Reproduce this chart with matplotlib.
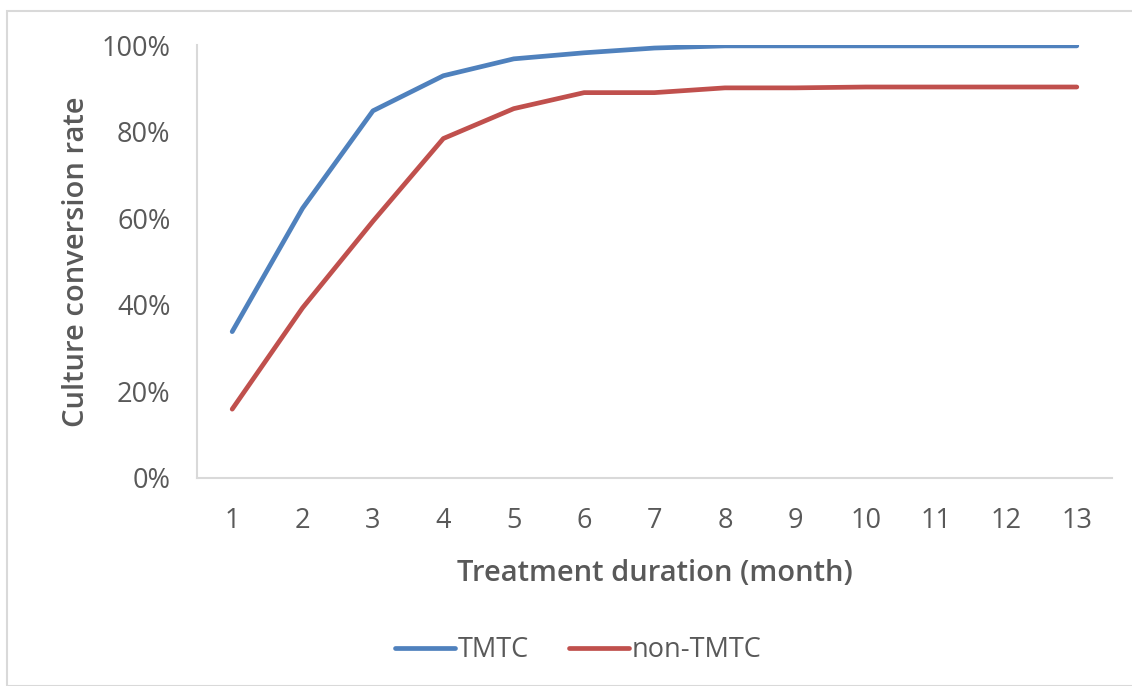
import matplotlib
matplotlib.use("Agg")
import matplotlib.pyplot as plt
from matplotlib.patches import Rectangle
from matplotlib.ticker import PercentFormatter

# Data
months = list(range(1, 14))
tmtc = [0.338, 0.623, 0.848, 0.929, 0.968, 0.982, 0.993, 0.998, 0.998, 0.998, 0.998, 0.998, 0.998]
non_tmtc = [0.159, 0.393, 0.593, 0.784, 0.853, 0.890, 0.890, 0.901, 0.901, 0.903, 0.903, 0.903, 0.903]

SERIES_COLORS = {"TMTC": "#4F81BD", "non-TMTC": "#C0504D"}
TEXT_COLOR = "#595959"
GRID_GREY = "#D9D9D9"

plt.rcParams["font.family"] = ["Open Sans", "DejaVu Sans"]

fig = plt.figure(figsize=(11.32, 6.86), dpi=100)
ax = fig.add_axes([197 / 1132, 1 - 478 / 686, (1112 - 197) / 1132, (478 - 45) / 686])

ax.plot(months, tmtc, color=SERIES_COLORS["TMTC"], lw=3.4, solid_capstyle="round",
        solid_joinstyle="round", label="TMTC")
ax.plot(months, non_tmtc, color=SERIES_COLORS["non-TMTC"], lw=3.4, solid_capstyle="round",
        solid_joinstyle="round", label="non-TMTC")

ax.set_xlim(0.5, 13.5)
ax.set_ylim(0, 1)
ax.set_xticks(months)
ax.set_yticks([0, 0.2, 0.4, 0.6, 0.8, 1.0])
ax.yaxis.set_major_formatter(PercentFormatter(1.0, decimals=0))

for side in ["top", "right"]:
    ax.spines[side].set_visible(False)
for side in ["left", "bottom"]:
    ax.spines[side].set_color(GRID_GREY)
    ax.spines[side].set_linewidth(1.5)

ax.tick_params(length=0, labelsize=19.5, colors=TEXT_COLOR)
ax.tick_params(axis="x", pad=21)
ax.tick_params(axis="y", pad=19)

ax.set_xlabel("Treatment duration (month)", fontsize=21, fontweight="semibold",
              color=TEXT_COLOR, labelpad=17)
ax.set_ylabel("Culture conversion rate", fontsize=21, fontweight="semibold",
              color=TEXT_COLOR)
ax.yaxis.set_label_coords((91 - 197) / 915, 0.5)

leg = fig.legend(loc="center", bbox_to_anchor=(578 / 1132, 1 - 650 / 686), ncol=2,
                 frameon=False, fontsize=19.5, handlelength=2.2, handletextpad=0.1,
                 columnspacing=1.5)
for t in leg.get_texts():
    t.set_color(TEXT_COLOR)

# light chart-area border like the spreadsheet export
fig.patches.append(Rectangle((7 / 1132, 0), 1.2, 1 - 11 / 686, transform=fig.transFigure,
                             fill=False, edgecolor=GRID_GREY, lw=1.5))

fig.savefig("out.png", dpi=100)
